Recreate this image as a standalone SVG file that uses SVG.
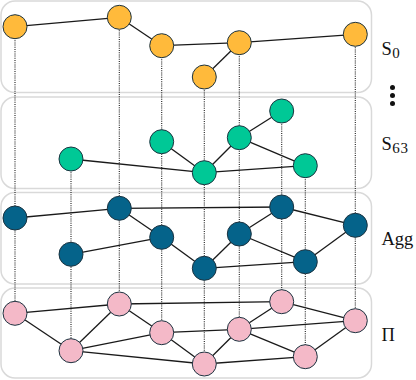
<svg xmlns="http://www.w3.org/2000/svg" width="416" height="380" viewBox="0 0 416 380">
<style>
.panel{fill:none;stroke:#d9d9d9;stroke-width:1.5}
.drop{stroke:#1a1a1a;stroke-width:1.1;stroke-dasharray:1 1.2;fill:none}
.edge{stroke:#1a1a1a;stroke-width:1.3;fill:none}
.n{stroke:#1c3340;stroke-width:1}
.o{fill:#FFBA3B}
.g{fill:#00C896}
.b{fill:#05638A}
.p{fill:#F4B9C8}
.lbl{font-family:"Liberation Serif","DejaVu Serif",serif;font-size:18.5px;fill:#111}
.sub{font-size:15px;letter-spacing:0.8px}
</style>
<g id="panels">
<rect class="panel" x="1" y="1" width="370.5" height="91.5" rx="14"/>
<rect class="panel" x="1" y="97" width="370.5" height="91.5" rx="14"/>
<rect class="panel" x="1" y="192.5" width="370.5" height="91.5" rx="14"/>
<rect class="panel" x="1" y="288" width="370.5" height="90" rx="14"/>
</g>
<g id="connectors">
<line class="drop" x1="15" y1="27" x2="15" y2="313"/>
<line class="drop" x1="71" y1="159" x2="71" y2="351"/>
<line class="drop" x1="119.3" y1="17" x2="119.3" y2="304"/>
<line class="drop" x1="161.7" y1="46" x2="161.7" y2="333"/>
<line class="drop" x1="204.3" y1="77" x2="204.3" y2="364"/>
<line class="drop" x1="239.3" y1="43" x2="239.3" y2="329"/>
<line class="drop" x1="281.7" y1="111" x2="281.7" y2="302"/>
<line class="drop" x1="305.3" y1="166" x2="305.3" y2="357"/>
<line class="drop" x1="355.3" y1="34" x2="355.3" y2="321"/>
<!-- S0 -->
<line class="edge" x1="15" y1="26.7" x2="119.3" y2="17.3"/>
<line class="edge" x1="119.3" y1="17.3" x2="161.7" y2="45.7"/>
<line class="edge" x1="161.7" y1="45.7" x2="239.3" y2="42.7"/>
<line class="edge" x1="239.3" y1="42.7" x2="355.3" y2="34.3"/>
<line class="edge" x1="239.3" y1="42.7" x2="204.3" y2="77"/>
<!-- S63 -->
<line class="edge" x1="281.7" y1="111" x2="239.3" y2="137.7"/>
<line class="edge" x1="239.3" y1="137.7" x2="204.3" y2="172.7"/>
<line class="edge" x1="239.3" y1="137.7" x2="305.3" y2="165.7"/>
<line class="edge" x1="161.7" y1="141.7" x2="204.3" y2="172.7"/>
<line class="edge" x1="71" y1="159" x2="204.3" y2="172.7"/>
<line class="edge" x1="204.3" y1="172.7" x2="305.3" y2="165.7"/>
<!-- Agg -->
<line class="edge" x1="15" y1="218" x2="119.3" y2="208.3"/>
<line class="edge" x1="119.3" y1="208.3" x2="281.7" y2="207"/>
<line class="edge" x1="281.7" y1="207" x2="355.3" y2="225.3"/>
<line class="edge" x1="119.3" y1="208.3" x2="161.7" y2="237.3"/>
<line class="edge" x1="161.7" y1="237.3" x2="71" y2="254.3"/>
<line class="edge" x1="161.7" y1="237.3" x2="204.3" y2="268.3"/>
<line class="edge" x1="204.3" y1="268.3" x2="239.3" y2="234"/>
<line class="edge" x1="239.3" y1="234" x2="281.7" y2="207"/>
<line class="edge" x1="239.3" y1="234" x2="305.3" y2="261.7"/>
<line class="edge" x1="204.3" y1="268.3" x2="305.3" y2="261.7"/>
<line class="edge" x1="305.3" y1="261.7" x2="355.3" y2="225.3"/>
<!-- Pi -->
<line class="edge" x1="15" y1="313.3" x2="119.3" y2="304"/>
<line class="edge" x1="119.3" y1="304" x2="281.7" y2="301.7"/>
<line class="edge" x1="281.7" y1="301.7" x2="355.3" y2="320.7"/>
<line class="edge" x1="15" y1="313.3" x2="71" y2="350.7"/>
<line class="edge" x1="71" y1="350.7" x2="119.3" y2="304"/>
<line class="edge" x1="119.3" y1="304" x2="161.7" y2="332.7"/>
<line class="edge" x1="161.7" y1="332.7" x2="71" y2="350.7"/>
<line class="edge" x1="161.7" y1="332.7" x2="239.3" y2="329.3"/>
<line class="edge" x1="239.3" y1="329.3" x2="355.3" y2="320.7"/>
<line class="edge" x1="239.3" y1="329.3" x2="281.7" y2="301.7"/>
<line class="edge" x1="239.3" y1="329.3" x2="204.3" y2="364"/>
<line class="edge" x1="239.3" y1="329.3" x2="305.3" y2="356.7"/>
<line class="edge" x1="161.7" y1="332.7" x2="204.3" y2="364"/>
<line class="edge" x1="71" y1="350.7" x2="204.3" y2="364"/>
<line class="edge" x1="204.3" y1="364" x2="305.3" y2="356.7"/>
<line class="edge" x1="305.3" y1="356.7" x2="355.3" y2="320.7"/>
</g>
<g id="s0-nodes">
<g id="s0-a"><circle class="n o" cx="15" cy="26.7" r="12"/></g>
<g id="s0-b"><circle class="n o" cx="119.3" cy="17.3" r="12"/></g>
<g id="s0-c"><circle class="n o" cx="161.7" cy="45.7" r="12"/></g>
<g id="s0-d"><circle class="n o" cx="239.3" cy="42.7" r="12"/></g>
<g id="s0-e"><circle class="n o" cx="355.3" cy="34.3" r="12"/></g>
<g id="s0-f"><circle class="n o" cx="204.3" cy="77" r="12"/></g>
</g>
<g id="s63-nodes">
<g id="s63-a"><circle class="n g" cx="281.7" cy="111" r="12"/></g>
<g id="s63-b"><circle class="n g" cx="239.3" cy="137.7" r="12"/></g>
<g id="s63-c"><circle class="n g" cx="161.7" cy="141.7" r="12"/></g>
<g id="s63-d"><circle class="n g" cx="71" cy="159" r="12"/></g>
<g id="s63-e"><circle class="n g" cx="204.3" cy="172.7" r="12"/></g>
<g id="s63-f"><circle class="n g" cx="305.3" cy="165.7" r="12"/></g>
</g>
<g id="agg-nodes">
<g id="agg-1"><circle class="n b" cx="15" cy="218" r="12"/></g>
<g id="agg-2"><circle class="n b" cx="119.3" cy="208.3" r="12"/></g>
<g id="agg-3"><circle class="n b" cx="281.7" cy="207" r="12"/></g>
<g id="agg-4"><circle class="n b" cx="355.3" cy="225.3" r="12"/></g>
<g id="agg-5"><circle class="n b" cx="161.7" cy="237.3" r="12"/></g>
<g id="agg-6"><circle class="n b" cx="239.3" cy="234" r="12"/></g>
<g id="agg-7"><circle class="n b" cx="71" cy="254.3" r="12"/></g>
<g id="agg-8"><circle class="n b" cx="204.3" cy="268.3" r="12"/></g>
<g id="agg-9"><circle class="n b" cx="305.3" cy="261.7" r="12"/></g>
</g>
<g id="pi-nodes">
<g id="pi-1"><circle class="n p" cx="15" cy="313.3" r="12"/></g>
<g id="pi-2"><circle class="n p" cx="119.3" cy="304" r="12"/></g>
<g id="pi-3"><circle class="n p" cx="281.7" cy="301.7" r="12"/></g>
<g id="pi-4"><circle class="n p" cx="355.3" cy="320.7" r="12"/></g>
<g id="pi-5"><circle class="n p" cx="161.7" cy="332.7" r="12"/></g>
<g id="pi-6"><circle class="n p" cx="239.3" cy="329.3" r="12"/></g>
<g id="pi-7"><circle class="n p" cx="71" cy="350.7" r="12"/></g>
<g id="pi-8"><circle class="n p" cx="204.3" cy="364" r="12"/></g>
<g id="pi-9"><circle class="n p" cx="305.3" cy="356.7" r="12"/></g>
</g>
<g id="labels">
<text class="lbl" x="381.5" y="55">S<tspan class="sub" dx="0.5" dy="2.5">0</tspan></text>
<g id="vdots" fill="#111">
<circle cx="392.5" cy="87.5" r="2.5"/>
<circle cx="392.5" cy="95.5" r="2.5"/>
<circle cx="392.5" cy="103.5" r="2.5"/>
</g>
<text class="lbl" x="381.5" y="150">S<tspan class="sub" dx="0.5" dy="2.5">63</tspan></text>
<text class="lbl" x="381.5" y="245">Agg</text>
<text class="lbl" x="381.5" y="340.5">Π</text>
</g>
</svg>
